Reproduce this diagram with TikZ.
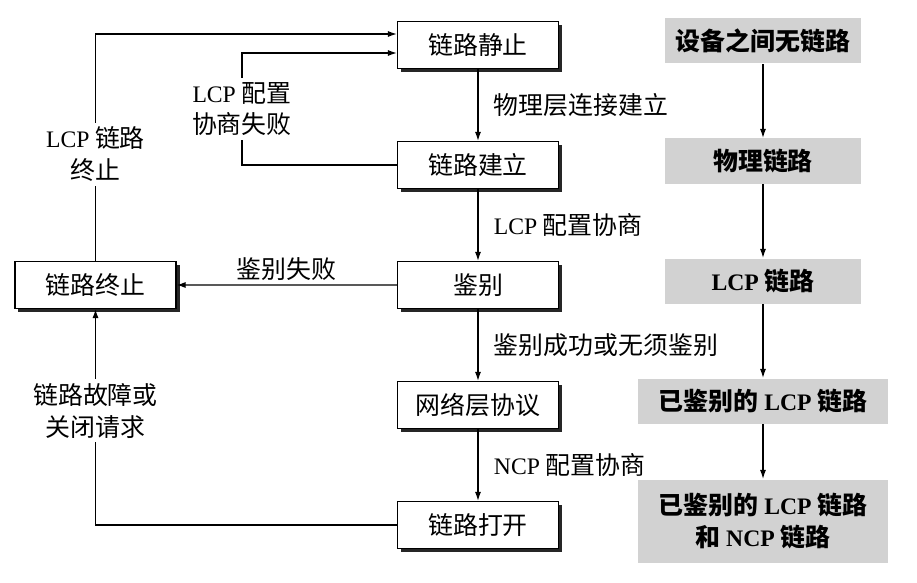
\documentclass[tikz,border=0pt]{standalone}
\usepackage{fontspec}
\setmainfont{Noto Sans CJK SC}
\newfontfamily\lcpfont[Scale=0.95]{Liberation Serif}
\newcommand{\lt}[1]{{\lcpfont #1}}
\usetikzlibrary{positioning, arrows.meta, shadows}

\begin{document}
\begin{tikzpicture}[x=1bp,y=-1bp,node distance=120bp,on grid,
    >={Latex[length=9bp,width=6bp]},line width=1.2bp,
    font=\fontsize{25}{32}\selectfont,
    stbox/.style={draw,fill=white,minimum width=161bp,minimum height=47bp,
      drop shadow={shadow xshift=3.5bp,shadow yshift=-3.5bp,fill=black!85,opacity=1}},
    phase/.style={fill=gray!35,minimum width=196bp,minimum height=45bp,
      font=\fontsize{25}{32}\selectfont\bfseries},
    lbl/.style={align=center,fill=white,inner sep=4bp}]
  \useasboundingbox (0,0) rectangle (917,583);
  \node[stbox] (dead) at (478,45) {链路静止};
  \node[stbox] (estab) [below=of dead] {链路建立};
  \node[stbox] (auth) [below=of estab] {鉴别};
  \node[stbox] (netw) [below=of auth] {网络层协议};
  \node[stbox] (open) [below=of netw] {链路打开};
  \node[stbox] (term) at (95.5,285) {链路终止};
  \path[->]
    (dead) edge node [anchor=west,xshift=12bp] {物理层连接建立} (estab)
    (estab) edge node [anchor=west,xshift=12bp] {\lt{LCP} 配置协商} (auth)
    (auth) edge node [anchor=west,xshift=12bp] {鉴别成功或无须鉴别} (netw)
           edge node [above] {鉴别失败} (term)
    (netw) edge node [anchor=west,xshift=12bp] {\lt{NCP} 配置协商} (open);
  \draw[->] (term) |- node [lbl,pos=0.235] {\lt{LCP} 链路\\终止} ([yshift=11bp]dead.west);
  \draw[->] (estab.west) -- ++(-155bp,0) |- node [lbl,pos=0.25] {\lt{LCP} 配置\\协商失败} ([yshift=-8bp]dead.west);
  \draw[->] (open) -| node [lbl,pos=0.765] {链路故障或\\关闭请求} (term);
  \node[phase] (none) at (763,41) {设备之间无链路};
  \node[phase] (phys) [below=of none] {物理链路};
  \node[phase] (lcp) [below=of phys] {\lt{LCP} 链路};
  \node[phase,minimum width=250bp] (alcp) [below=of lcp] {已鉴别的 \lt{LCP} 链路};
  \node[phase,minimum width=250bp,minimum height=83bp,align=center] (ncp) [below=of alcp] {已鉴别的 \lt{LCP} 链路\\和 \lt{NCP} 链路};
  \path[->,line width=1.1bp]
    (none) edge (phys)
    (phys) edge (lcp)
    (lcp) edge (alcp)
    (alcp) edge (ncp);
\end{tikzpicture}
\end{document}
